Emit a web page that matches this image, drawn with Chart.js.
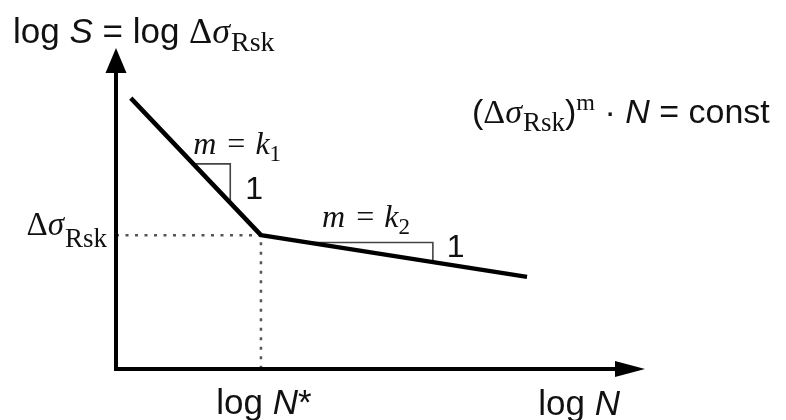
<!DOCTYPE html>
<html>
<head>
<meta charset="utf-8">
<script src="https://cdn.jsdelivr.net/npm/chart.js@4.4.1/dist/chart.umd.min.js"></script>
<style>
  html, body { margin: 0; padding: 0; background: #fff; }
  canvas { display: block; }
</style>
</head>
<body>
<canvas id="c" width="786" height="420"></canvas>
<script>
// Bilinear S-N curve (schematic), in log-log units
const logN = [0.28, 2.74, 7.77];
const logS = [8.44, 4.17, 2.87];
const KNEE = 1;

// Slope triangles along each branch
const slope1N = [1.46, 2.16, 2.16];
const slope1S = [6.39, 6.39, 5.18];
const slope2N = [3.63, 5.99, 5.99];
const slope2S = [3.94, 3.94, 3.33];

// Axis extents (arrow tips)
const axisMaxN = 10;
const axisMaxS = 10;

// Tick labels
const kneeNLabel = ['log ', 'N', '*'];
const axisNLabel = ['log ', 'N'];

const SANS = '"Liberation Sans", Arial, sans-serif';
const SERIF = '"Liberation Serif", "Times New Roman", serif';

const pts = (xs, ys) => xs.map((x, i) => ({ x, y: ys[i] }));

function drawRuns(ctx, runs, x, y, align) {
  let total = 0;
  for (const r of runs) { ctx.font = r.f; total += ctx.measureText(r.t).width + (r.gap || 0); }
  let cx = align === 'right' ? x - total : align === 'center' ? x - total / 2 : x;
  ctx.textBaseline = 'alphabetic';
  ctx.textAlign = 'left';
  for (const r of runs) {
    ctx.font = r.f;
    ctx.fillText(r.t, cx, y + (r.dy || 0));
    cx += ctx.measureText(r.t).width + (r.gap || 0);
  }
}

// Δσ with subscript Rsk
const deltaSigma = (size, sub, dy) => [
  { t: '\u0394', f: `${size}px ${SERIF}` },
  { t: '\u03c3', f: `italic ${size}px ${SERIF}`, gap: 1 },
  { t: 'Rsk', f: `${sub}px ${SERIF}`, dy }
];

const decor = {
  id: 'decor',
  afterDatasetsDraw(chart) {
    const { ctx, scales } = chart;
    const X = v => scales.x.getPixelForValue(v);
    const Y = v => scales.y.getPixelForValue(v);
    const ox = X(0), oy = Y(0);
    const tipY = Y(axisMaxS), tipX = X(axisMaxN);
    ctx.save();
    ctx.fillStyle = '#000';
    ctx.strokeStyle = '#000';
    ctx.lineWidth = 4;
    ctx.lineCap = 'butt';
    // vertical axis
    ctx.beginPath();
    ctx.moveTo(ox, oy + 2);
    ctx.lineTo(ox, tipY + 22);
    ctx.stroke();
    ctx.beginPath();
    ctx.moveTo(ox, tipY);
    ctx.lineTo(ox - 10.5, tipY + 25);
    ctx.lineTo(ox + 10.5, tipY + 25);
    ctx.closePath();
    ctx.fill();
    // horizontal axis
    ctx.beginPath();
    ctx.moveTo(ox - 2, oy);
    ctx.lineTo(tipX - 26, oy);
    ctx.stroke();
    ctx.beginPath();
    ctx.moveTo(tipX, oy);
    ctx.lineTo(tipX - 30, oy - 8);
    ctx.lineTo(tipX - 30, oy + 8);
    ctx.closePath();
    ctx.fill();

    ctx.fillStyle = '#111';
    // axis title
    drawRuns(ctx, [
      { t: 'log ', f: `35px ${SANS}` },
      { t: 'S', f: `italic 35px ${SANS}` },
      { t: ' = log ', f: `35px ${SANS}` },
      ...deltaSigma(36, 28, 8)
    ], 13, 43, 'left');

    // Basquin relation
    drawRuns(ctx, [
      { t: '(', f: `34px ${SANS}` },
      ...deltaSigma(34, 27, 8),
      { t: ')', f: `34px ${SANS}` },
      { t: 'm', f: `24px ${SERIF}`, dy: -13 },
      { t: ' \u00b7 ', f: `34px ${SANS}` },
      { t: 'N', f: `italic 34px ${SANS}` },
      { t: ' = const', f: `34px ${SANS}` }
    ], 472, 123, 'left');

    // knee stress label on the vertical axis
    drawRuns(ctx, deltaSigma(33, 27, 12), ox - 9, Y(logS[KNEE]), 'right');

    // horizontal axis labels
    drawRuns(ctx, [
      { t: kneeNLabel[0], f: `35px ${SANS}` },
      { t: kneeNLabel[1], f: `italic 35px ${SANS}` },
      { t: kneeNLabel[2], f: `35px ${SANS}` }
    ], X(logN[KNEE]) + 3, oy + 45, 'center');
    drawRuns(ctx, [
      { t: axisNLabel[0], f: `35px ${SANS}` },
      { t: axisNLabel[1], f: `italic 35px ${SANS}` }
    ], tipX - 25, oy + 46, 'right');

    // slope annotations
    const k = (n) => [
      { t: 'm', f: `italic 32px ${SERIF}`, gap: 3 },
      { t: ' = ', f: `32px ${SERIF}`, gap: 2 },
      { t: 'k', f: `italic 32px ${SERIF}` },
      { t: n, f: `23px ${SERIF}`, dy: 7 }
    ];
    drawRuns(ctx, k('1'), X(slope1N[0]), Y(slope1S[0]) - 10, 'left');
    drawRuns(ctx, k('2'), X(slope2N[0]) + 14, Y(slope2S[0]) - 16, 'left');
    ctx.font = `32px ${SANS}`;
    ctx.fillText('1', X(slope1N[2]) + 15, Y(slope1S[2]) - 4);
    ctx.fillText('1', X(slope2N[2]) + 14, Y(slope2S[2]) - 5);
    ctx.restore();
  }
};

new Chart(document.getElementById('c'), {
  type: 'scatter',
  data: {
    datasets: [
      {
        data: pts(logN, logS),
        showLine: true, borderColor: '#000', borderWidth: 4.5,
        borderJoinStyle: 'round', borderCapStyle: 'butt',
        pointRadius: 0, order: 0
      },
      {
        data: pts(slope1N, slope1S),
        showLine: true, borderColor: '#444', borderWidth: 1.6,
        pointRadius: 0, order: 1
      },
      {
        data: pts(slope2N, slope2S),
        showLine: true, borderColor: '#444', borderWidth: 1.6,
        pointRadius: 0, order: 1
      },
      {
        data: [
          { x: 0, y: logS[KNEE] },
          { x: logN[KNEE], y: logS[KNEE] },
          { x: logN[KNEE], y: 0 }
        ],
        showLine: true, borderColor: '#555', borderWidth: 2.5,
        borderDash: [3, 6.5], pointRadius: 0, order: 2
      }
    ]
  },
  options: {
    responsive: false,
    animation: false,
    devicePixelRatio: 1,
    layout: { padding: { left: 116, right: 141, top: 48, bottom: 51 } },
    scales: {
      x: { type: 'linear', min: 0, max: axisMaxN, display: false },
      y: { type: 'linear', min: 0, max: axisMaxS, display: false }
    },
    plugins: { legend: { display: false }, tooltip: { enabled: false } }
  },
  plugins: [decor]
});
</script>
</body>
</html>
